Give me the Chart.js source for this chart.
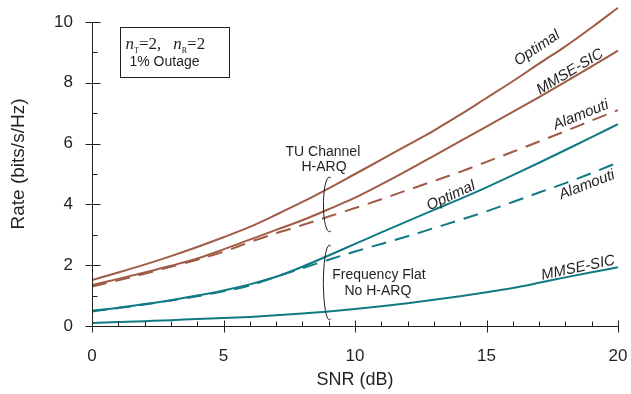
<!DOCTYPE html>
<html>
<head>
<meta charset="utf-8">
<script src="https://cdn.jsdelivr.net/npm/chart.js@4/dist/chart.umd.min.js"></script>
<style>
  html, body { margin: 0; padding: 0; background: #fff; }
</style>
</head>
<body>
<canvas id="chart" width="631" height="394"></canvas>
<script>
// SNR in dB
const snr = [0, 1, 2, 3, 4, 5, 6, 7, 8, 9, 10, 11, 12, 13, 14, 15, 16, 17, 18, 19, 20];

// TU channel with H-ARQ
const tuOptimal  = [1.51, 1.76, 2.02, 2.30, 2.60, 2.92, 3.26, 3.66, 4.08, 4.53, 5.00, 5.47, 5.95, 6.43, 6.95, 7.50, 8.05, 8.63, 9.20, 9.82, 10.47];
const tuMmseSic  = [1.35, 1.55, 1.76, 1.98, 2.22, 2.52, 2.84, 3.16, 3.48, 3.84, 4.22, 4.66, 5.12, 5.60, 6.08, 6.56, 7.04, 7.53, 8.03, 8.54, 9.06];
const tuAlamouti = [1.30, 1.50, 1.72, 1.95, 2.18, 2.44, 2.76, 3.05, 3.32, 3.60, 3.88, 4.17, 4.47, 4.77, 5.07, 5.40, 5.73, 6.07, 6.41, 6.76, 7.10];

// Frequency flat, no H-ARQ
const ffOptimal  = [0.50, 0.60, 0.72, 0.85, 1.00, 1.17, 1.37, 1.62, 1.95, 2.32, 2.70, 3.08, 3.45, 3.82, 4.18, 4.56, 4.96, 5.37, 5.79, 6.21, 6.64];
const ffAlamouti = [0.48, 0.59, 0.71, 0.84, 0.98, 1.14, 1.33, 1.62, 1.90, 2.18, 2.45, 2.70, 2.95, 3.22, 3.49, 3.77, 4.08, 4.39, 4.70, 5.03, 5.38];
const ffMmseSic  = [0.10, 0.13, 0.16, 0.19, 0.23, 0.26, 0.30, 0.35, 0.41, 0.48, 0.56, 0.65, 0.75, 0.86, 0.98, 1.11, 1.25, 1.42, 1.60, 1.77, 1.93];

const xTicks = [0, 5, 10, 15, 20];
const yTicks = [0, 2, 4, 6, 8, 10];

const brown = '#a05b45';
const teal = '#107a85';
const ink = '#231f20';
const sans = '"Liberation Sans", Arial, sans-serif';
const serif = '"Liberation Serif", "Times New Roman", serif';

const curveLabels = [
  { text: 'Optimal',  x: 16.92, y: 9.14, angle: -34 },
  { text: 'MMSE-SIC', x: 18.17, y: 8.36, angle: -31 },
  { text: 'Alamouti', x: 18.59, y: 6.94, angle: -22 },
  { text: 'Optimal',  x: 13.65, y: 4.28, angle: -25 },
  { text: 'Alamouti', x: 18.82, y: 4.64, angle: -21 },
  { text: 'MMSE-SIC', x: 18.48, y: 1.91, angle: -12 }
];

const groupLabels = [
  { text: 'TU Channel',     x: 8.78,  y: 5.72 },
  { text: 'H-ARQ',          x: 8.82,  y: 5.23 },
  { text: 'Frequency Flat', x: 10.91, y: 1.68 },
  { text: 'No H-ARQ',       x: 10.87, y: 1.15 }
];

const brackets = [
  { x: 8.95, top: 4.9, bottom: 3.1 },
  { x: 8.95, top: 2.66, bottom: 0.2 }
];

function series(values, color, dashed) {
  return {
    data: snr.map((s, i) => ({ x: s, y: values[i] })),
    borderColor: color,
    borderWidth: 2,
    borderDash: dashed ? [15, 9] : [],
    pointRadius: 0,
    cubicInterpolationMode: 'monotone',
    clip: false,
    fill: false
  };
}

const decorations = {
  id: 'decorations',
  afterDraw(chart) {
    const ctx = chart.ctx;
    const xs = chart.scales.x, ys = chart.scales.y;
    const px = v => xs.getPixelForValue(v);
    const py = v => ys.getPixelForValue(v);
    const ax = Math.round(px(0)) + 0.5;
    const ay = Math.round(py(0)) + 0.5;

    ctx.save();
    ctx.strokeStyle = ink;
    ctx.lineWidth = 1;
    ctx.beginPath();
    ctx.moveTo(ax, Math.round(py(10)) + 0.5);
    ctx.lineTo(ax, ay);
    ctx.moveTo(ax - 4, ay);
    ctx.lineTo(Math.round(px(20)) + 0.5, ay);
    // x ticks
    for (let v = 0; v <= 20; v++) {
      const x = Math.round(px(v)) + 0.5;
      if (v % 5 === 0) { ctx.moveTo(x, ay - 6); ctx.lineTo(x, ay + 6); }
      else { ctx.moveTo(x, ay - 5); ctx.lineTo(x, ay); }
    }
    // y ticks
    for (let v = 0; v <= 10; v++) {
      const y = Math.round(py(v)) + 0.5;
      if (v % 2 === 0) { ctx.moveTo(ax - 7, y); ctx.lineTo(ax + 8, y); }
      else { ctx.moveTo(ax, y); ctx.lineTo(ax + 5, y); }
    }
    ctx.stroke();

    // axis titles
    ctx.fillStyle = ink;
    ctx.textAlign = 'center';
    ctx.textBaseline = 'middle';
    ctx.font = '18px ' + sans;
    ctx.fillText('SNR (dB)', px(10), 380);
    ctx.save();
    ctx.font = '19px ' + sans;
    ctx.translate(19, 164);
    ctx.rotate(-Math.PI / 2);
    ctx.fillText('Rate (bits/s/Hz)', 0, 0);
    ctx.restore();

    // curve labels
    ctx.font = 'italic 15px ' + sans;
    curveLabels.forEach(l => {
      ctx.save();
      ctx.translate(px(l.x), py(l.y));
      ctx.rotate(l.angle * Math.PI / 180);
      ctx.fillText(l.text, 0, 0);
      ctx.restore();
    });

    ctx.font = '14px ' + sans;
    groupLabels.forEach(l => ctx.fillText(l.text, px(l.x), py(l.y)));

    // brackets
    ctx.lineWidth = 1;
    brackets.forEach(b => {
      const cx = px(b.x) + 2;
      const top = py(b.top), bottom = py(b.bottom);
      ctx.beginPath();
      ctx.ellipse(cx, (top + bottom) / 2, 6, (bottom - top) / 2, 0, 0.42 * Math.PI, 1.58 * Math.PI);
      ctx.stroke();
    });

    // info box
    const bx = chart.chartArea.left + 28.5, by = chart.chartArea.top + 5.5;
    ctx.strokeRect(bx, by, 109, 50);
    ctx.textAlign = 'left';
    ctx.textBaseline = 'alphabetic';
    let x = bx + 5;
    const base = by + 21;
    const part = (txt, font, dy) => {
      ctx.font = font;
      ctx.fillText(txt, x, base + dy);
      x += ctx.measureText(txt).width;
    };
    part('n', 'italic 17px ' + serif, 0);
    part('T', '8px ' + serif, 4);
    part('=2,', '17px ' + serif, 0);
    x += 12;
    part('n', 'italic 17px ' + serif, 0);
    part('R', '8px ' + serif, 4);
    part('=2', '17px ' + serif, 0);
    ctx.font = '14px ' + sans;
    ctx.fillText('1% Outage', bx + 9, by + 38);
    ctx.restore();
  }
};

new Chart(document.getElementById('chart').getContext('2d'), {
  type: 'line',
  data: {
    datasets: [
      series(tuOptimal, brown, false),
      series(tuMmseSic, brown, false),
      series(tuAlamouti, brown, true),
      series(ffOptimal, teal, false),
      series(ffAlamouti, teal, true),
      series(ffMmseSic, teal, false)
    ]
  },
  options: {
    responsive: false,
    animation: false,
    layout: { padding: { top: 22, right: 13, left: 0, bottom: 0 } },
    plugins: { legend: { display: false }, tooltip: { enabled: false } },
    scales: {
      x: {
        type: 'linear',
        min: 0,
        max: 20,
        afterBuildTicks: s => { s.ticks = xTicks.map(v => ({ value: v })); },
        afterFit: s => { s.height = 68; s.paddingLeft = 0; s.paddingRight = 0; },
        grid: { display: false, drawTicks: false },
        border: { display: false },
        ticks: { color: ink, font: { family: sans, size: 17 }, padding: 20, maxRotation: 0 }
      },
      y: {
        min: 0,
        max: 10,
        afterBuildTicks: s => { s.ticks = yTicks.map(v => ({ value: v })); },
        afterFit: s => { s.width = 92; s.paddingTop = 0; s.paddingBottom = 0; },
        grid: { display: false, drawTicks: false },
        border: { display: false },
        ticks: { color: ink, font: { family: sans, size: 17 }, padding: 19 }
      }
    }
  },
  plugins: [decorations]
});
</script>
</body>
</html>
